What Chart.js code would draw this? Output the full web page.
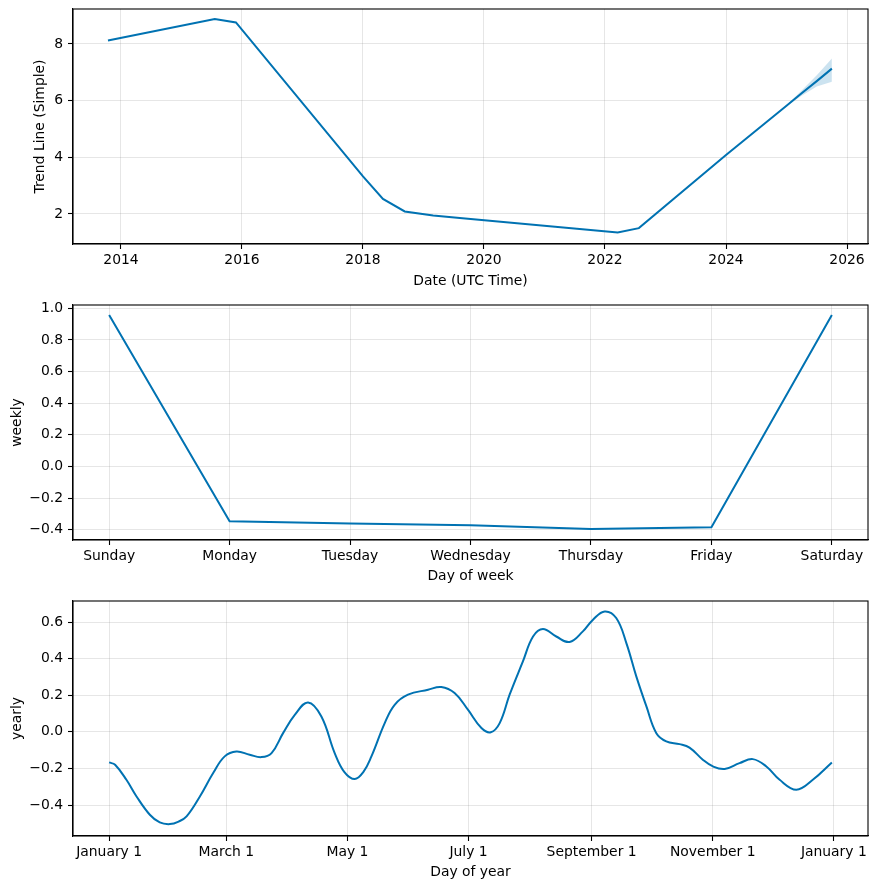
<!DOCTYPE html>
<html>
<head>
<meta charset="utf-8">
<script src="https://cdn.jsdelivr.net/npm/chart.js@4"></script>
<style>
  html, body { margin: 0; padding: 0; background: #fff; }
  body { width: 878px; height: 889px; position: relative; overflow: hidden; }
  canvas { position: absolute; left: 0; }
</style>
</head>
<body>
<canvas id="c1" width="878" height="296" style="top:0px"></canvas>
<canvas id="c2" width="878" height="296" style="top:296px"></canvas>
<canvas id="c3" width="878" height="297" style="top:592px"></canvas>
<script>
// ---------- DATA ----------
const trendYears  = [2013.785, 2015.55, 2015.90, 2018.0, 2018.33, 2018.69, 2019.16, 2019.60, 2022.21, 2022.56, 2024.0, 2025.0, 2025.25, 2025.5, 2025.75];
const trendValues = [8.12, 8.88, 8.76, 3.33, 2.53, 2.09, 1.95, 1.86, 1.35, 1.50, 4.08, 5.82, 6.26, 6.69, 7.13];
const bandYears   = [2025.0, 2025.25, 2025.5, 2025.75];
const bandUpper   = [5.84, 6.36, 6.90, 7.49];
const bandLower   = [5.80, 6.17, 6.50, 6.67];
const trendXTicks = [2014, 2016, 2018, 2020, 2022, 2024, 2026];
const trendYTicks = [2, 4, 6, 8];

const weekDays    = [0, 1, 2, 3, 4, 5, 6];
const weekLabels  = ["Sunday", "Monday", "Tuesday", "Wednesday", "Thursday", "Friday", "Saturday"];
const weeklyValues = [0.958, -0.347, -0.360, -0.371, -0.396, -0.385, 0.958];
const weeklyYTicks = [-0.4, -0.2, 0.0, 0.2, 0.4, 0.6, 0.8, 1.0];

const yearDays = [0, 3, 8.7, 13.8, 20.5, 25.5, 30.6, 35, 39, 45.7, 52.4, 58.2, 64.1, 70.8, 76.7, 81.8, 87.6, 93.5, 100.2, 106.9, 113.6, 118.5, 123.7, 128, 132.1, 138.8, 143.8, 150.5, 160.6, 167.3, 174, 180.7, 187.5, 192.2, 196.7, 201.7, 208.4, 213.5, 218.5, 225.2, 231.9, 238.6, 243.7, 249.6, 255.4, 260.5, 265.5, 270.6, 275.6, 280.6, 287.3, 292.3, 299, 304.1, 310, 317.5, 324.2, 331, 337.7, 346.1, 354.4, 364];
const yearlyValues = [-0.167, -0.18, -0.262, -0.353, -0.453, -0.495, -0.504, -0.49, -0.462, -0.353, -0.225, -0.134, -0.107, -0.125, -0.138, -0.116, -0.007, 0.093, 0.161, 0.084, -0.116, -0.22, -0.258, -0.22, -0.134, 0.048, 0.148, 0.203, 0.23, 0.245, 0.212, 0.121, 0.021, -0.002, 0.048, 0.203, 0.385, 0.521, 0.562, 0.521, 0.491, 0.549, 0.613, 0.658, 0.622, 0.485, 0.303, 0.139, -0.007, -0.052, -0.067, -0.086, -0.152, -0.189, -0.203, -0.171, -0.149, -0.189, -0.262, -0.316, -0.262, -0.167];
const yearTickDays = [0, 59, 120, 181, 243, 304, 365];
const yearTickLabels = ["January 1", "March 1", "May 1", "July 1", "September 1", "November 1", "January 1"];
const yearlyYTicks = [-0.4, -0.2, 0.0, 0.2, 0.4, 0.6];

// ---------- STYLE ----------
const LINE = '#0072B2';
const BAND = 'rgba(0,114,178,0.2)';
const FONT = { family: "'DejaVu Sans', sans-serif", size: 13.9, lineHeight: 1.2 };
const fmt1 = v => (v < 0 ? '\u2212' : '') + Math.abs(v).toFixed(1);

const framePlugin = {
  id: 'frame',
  afterDraw(chart) {
    const a = chart.chartArea, ctx = chart.ctx;
    ctx.save();
    ctx.strokeStyle = '#000';
    ctx.lineWidth = 1.1;
    ctx.strokeRect(a.left, a.top, a.right - a.left, a.bottom - a.top);
    ctx.restore();
  }
};

function pts(xs, ys) { return xs.map((x, i) => ({ x: x, y: ys[i] })); }

function makeChart(id, datasets, cfg) {
  return new Chart(document.getElementById(id), {
    type: 'line',
    data: { datasets: datasets },
    plugins: [framePlugin],
    options: {
      responsive: false,
      animation: false,
      devicePixelRatio: 1,
      layout: { padding: { left: 0, right: 10, top: 9, bottom: 0 } },
      plugins: { legend: { display: false }, tooltip: { enabled: false } },
      elements: { point: { radius: 0 } },
      scales: {
        x: {
          type: 'linear',
          min: cfg.xMin, max: cfg.xMax,
          afterBuildTicks: s => { s.ticks = cfg.xTicks.map(v => ({ value: v })); },
          afterFit: s => { s.height = cfg.xAxisH; s.paddingLeft = 0; s.paddingRight = 0; },
          ticks: { callback: cfg.xLabel, color: '#000', font: FONT, padding: 3, maxRotation: 0, autoSkip: false },
          grid: { color: 'rgba(128,128,128,0.2)', lineWidth: 1, tickColor: '#000', tickLength: 5, tickWidth: 1.1 },
          border: { display: true, color: '#000', width: 1.1 },
          title: { display: true, text: cfg.xTitle, color: '#000', font: FONT, padding: { top: 0, bottom: cfg.xTitlePad } }
        },
        y: {
          type: 'linear',
          min: cfg.yMin, max: cfg.yMax,
          afterBuildTicks: s => { s.ticks = cfg.yTicks.map(v => ({ value: v })); },
          afterFit: s => { s.width = 73; s.paddingTop = 0; s.paddingBottom = 0; },
          ticks: { callback: cfg.yLabel, color: '#000', font: FONT, padding: 5, autoSkip: false },
          grid: { color: 'rgba(128,128,128,0.2)', lineWidth: 1, tickColor: '#000', tickLength: 5, tickWidth: 1.1 },
          border: { display: true, color: '#000', width: 1.1 },
          title: { display: true, text: cfg.yTitle, color: '#000', font: FONT, padding: { top: cfg.yTitlePad, bottom: 0 } }
        }
      }
    }
  });
}

// Panel 1: trend
makeChart('c1', [
  { data: pts(trendYears, trendValues), borderColor: LINE, borderWidth: 2, fill: false, tension: 0, order: 0 },
  { data: pts(bandYears, bandUpper), borderWidth: 0, borderColor: 'rgba(0,0,0,0)', backgroundColor: BAND, fill: '+1', order: 1 },
  { data: pts(bandYears, bandLower), borderWidth: 0, borderColor: 'rgba(0,0,0,0)', fill: false, order: 2 }
], {
  xMin: 2013.207, xMax: 2026.347, xTicks: trendXTicks, xLabel: v => String(v),
  yMin: 0.94, yMax: 9.235, yTicks: trendYTicks, yLabel: v => String(v),
  xTitle: 'Date (UTC Time)', yTitle: 'Trend Line (Simple)', xAxisH: 52, xTitlePad: 6.7, yTitlePad: 32.5
});

// Panel 2: weekly
makeChart('c2', [
  { data: pts(weekDays, weeklyValues), borderColor: LINE, borderWidth: 2, fill: false, tension: 0 }
], {
  xMin: -0.3, xMax: 6.3, xTicks: weekDays, xLabel: v => weekLabels[v],
  yMin: -0.465, yMax: 1.021, yTicks: weeklyYTicks, yLabel: fmt1,
  xTitle: 'Day of week', yTitle: 'weekly', xAxisH: 52, xTitlePad: 7.2, yTitlePad: 8.9
});

// Panel 3: yearly
makeChart('c3', [
  { data: pts(yearDays, yearlyValues), borderColor: LINE, borderWidth: 2, fill: false, tension: 0.4 }
], {
  xMin: -18.2, xMax: 382.2, xTicks: yearTickDays, xLabel: (v, i) => yearTickLabels[i],
  yMin: -0.569, yMax: 0.715, yTicks: yearlyYTicks, yLabel: fmt1,
  xTitle: 'Day of year', yTitle: 'yearly', xAxisH: 53, xTitlePad: 8.2, yTitlePad: 8.9
});
</script>
</body>
</html>
